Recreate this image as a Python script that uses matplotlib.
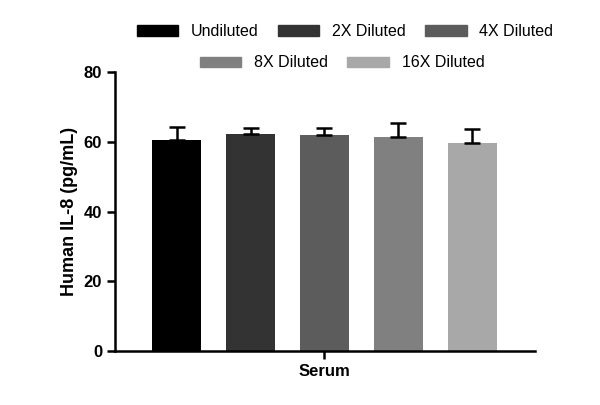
import matplotlib
matplotlib.use('Agg')
import matplotlib.pyplot as plt
from matplotlib.patches import Patch

plt.rcParams['font.family'] = ['Liberation Sans', 'DejaVu Sans']

labels = ['Undiluted', '2X Diluted', '4X Diluted', '8X Diluted', '16X Diluted']
means = [60.5, 62.3, 62.0, 61.4, 59.6]
errs = [3.7, 1.6, 1.9, 4.0, 4.0]
colors = ['#000000', '#333333', '#5c5c5c', '#808080', '#a8a8a8']

fig = plt.figure(figsize=(6, 4.05), dpi=100)
ax = fig.add_axes([0.192, 0.133, 0.7, 0.689])

x = range(len(means))
ax.bar(x, means, width=0.66, color=colors)
ax.errorbar(x, means, yerr=[[0]*len(errs), errs], fmt='none', ecolor='black',
            elinewidth=1.8, capsize=6, capthick=1.8)

ax.set_xlim(-0.83, 4.85)
ax.set_ylim(0, 80)
ax.set_yticks([0, 20, 40, 60, 80])
ax.set_xticks([2])
ax.set_xticklabels(['Serum'], fontsize=12, fontweight='bold')
ax.set_ylabel('Human IL-8 (pg/mL)', fontsize=13, fontweight='bold')
for t in ax.get_yticklabels():
    t.set_fontsize(12)
    t.set_fontweight('bold')
ax.spines['top'].set_visible(False)
ax.spines['right'].set_visible(False)
ax.spines['left'].set_linewidth(1.8)
ax.spines['bottom'].set_linewidth(1.8)
ax.tick_params(width=1.8, length=6)

h = [Patch(color=c) for c in colors]
leg1 = fig.legend(h[:3], labels[:3], loc='center', bbox_to_anchor=(0.575, 0.922), ncol=3,
                  frameon=False, fontsize=11.5, handlelength=2.6, handleheight=0.6,
                  columnspacing=1.2)
leg2 = fig.legend(h[3:], labels[3:], loc='center', bbox_to_anchor=(0.57, 0.845), ncol=2,
                  frameon=False, fontsize=11.5, handlelength=2.6, handleheight=0.6,
                  columnspacing=1.2)

fig.savefig('out.png', dpi=100)
